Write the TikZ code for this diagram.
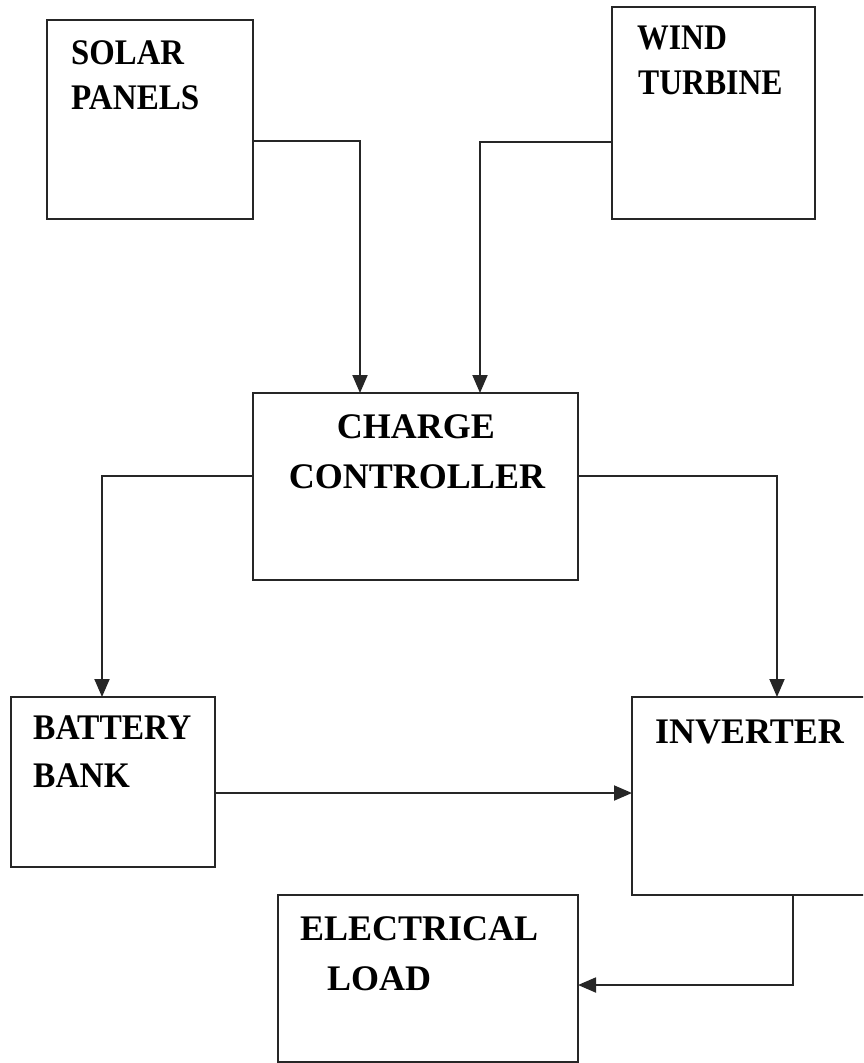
\documentclass[tikz,border=0pt]{standalone}
\usepackage{fontspec}
\setmainfont{Liberation Serif}
\usetikzlibrary{arrows.meta}
\newcommand{\nx}[2]{\scalebox{#1}[1]{#2}}
\tikzset{
  box/.style={draw=black!85, line width=2pt, rectangle, inner sep=0pt, outer sep=0pt, anchor=north west},
  lbl/.style={inner sep=0pt, anchor=base west, font=\fontsize{36}{42}\selectfont\bfseries},
  clbl/.style={inner sep=0pt, anchor=base, font=\fontsize{36}{42}\selectfont\bfseries},
  arr/.style={draw=black!85, line width=1.9pt, -{Triangle[length=18pt,width=15pt]}},
  conn/.style={draw=black!85, line width=1.9pt}
}
\begin{document}
\begin{tikzpicture}[x=1pt,y=-1pt]
\useasboundingbox (0,0) rectangle (863,1063);
\begin{scope}
\clip (0,0) rectangle (863,1063);
% boxes
\node[box, minimum width=206pt, minimum height=199pt] (solar) at (47,20) {};
\node[box, minimum width=203pt, minimum height=212pt] (wind) at (612,7) {};
\node[box, minimum width=325pt, minimum height=187pt] (charge) at (253,393) {};
\node[box, minimum width=204pt, minimum height=170pt] (battery) at (11,697) {};
\node[box, minimum width=248pt, minimum height=198pt] (inverter) at (632,697) {};
\node[box, minimum width=300pt, minimum height=167pt] (load) at (278,895) {};
% labels
\node[lbl] (t1) at (71,64) {\nx{0.91}{SOLAR}};
\node[lbl] (t2) at (71,109) {\nx{0.92}{PANELS}};
\node[lbl] (t3) at (637,49) {\nx{0.88}{WIND}};
\node[lbl] (t4) at (638,94) {\nx{0.88}{TURBINE}};
\node[clbl] (t5) at (416,438) {CHARGE};
\node[clbl] (t6) at (417,488) {CONTROLLER};
\node[lbl] (t7) at (33,739) {\nx{0.93}{BATTERY}};
\node[lbl] (t8) at (33,787) {\nx{0.93}{BANK}};
\node[lbl] (t9) at (655,743) {INVERTER};
\node[lbl] (t10) at (300,940) {ELECTRICAL};
\node[lbl] (t11) at (327,990) {LOAD};
% connectors
\coordinate (so) at ([yshift=-21.5pt]solar.east);
\coordinate (ci1) at ([xshift=-55.5pt]charge.north);
\draw[arr] (so) -| (ci1);
\coordinate (wo) at ([yshift=-29pt]wind.west);
\coordinate (ci2) at ([xshift=64.5pt]charge.north);
\draw[arr] (wo) -| (ci2);
\coordinate (cl) at ([yshift=10.5pt]charge.west);
\coordinate (bi) at ([xshift=-11pt]battery.north);
\draw[arr] (cl) -| (bi);
\coordinate (cr) at ([yshift=10.5pt]charge.east);
\coordinate (ii) at ([xshift=21pt]inverter.north);
\draw[arr] (cr) -| (ii);
\coordinate (bo) at ([yshift=-11pt]battery.east);
\draw[arr] (bo) -- (bo -| inverter.west);
\coordinate (io) at ([xshift=37pt]inverter.south);
\coordinate (li) at ([yshift=-6.5pt]load.east);
\draw[arr] (io) |- (li);
\end{scope}
\end{tikzpicture}
\end{document}
